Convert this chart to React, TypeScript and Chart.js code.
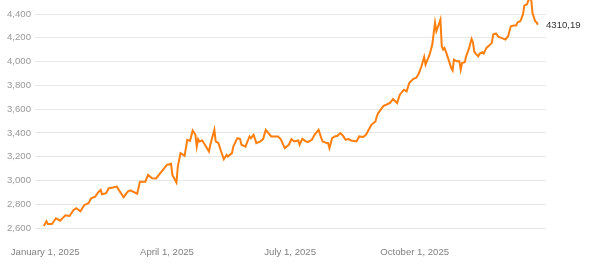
import React, { useEffect, useRef } from "react";
import { Chart, registerables } from "chart.js";

Chart.register(...registerables);

const dates: string[] = [
  "2024-12-31", "2025-01-02", "2025-01-03", "2025-01-06", "2025-01-09", "2025-01-12", "2025-01-16",
  "2025-01-19", "2025-01-22", "2025-01-24", "2025-01-27", "2025-01-30", "2025-02-02", "2025-02-04",
  "2025-02-07", "2025-02-09", "2025-02-11", "2025-02-12", "2025-02-15", "2025-02-17", "2025-02-20",
  "2025-02-23", "2025-02-25", "2025-02-28", "2025-03-03", "2025-03-05", "2025-03-10", "2025-03-12",
  "2025-03-16", "2025-03-18", "2025-03-21", "2025-03-24", "2025-03-29", "2025-04-01", "2025-04-04",
  "2025-04-05", "2025-04-08", "2025-04-09", "2025-04-11", "2025-04-13", "2025-04-14", "2025-04-16",
  "2025-04-18", "2025-04-20", "2025-04-22", "2025-04-23", "2025-04-24", "2025-04-25", "2025-04-27",
  "2025-04-29", "2025-05-02", "2025-05-03", "2025-05-06", "2025-05-07", "2025-05-09", "2025-05-11",
  "2025-05-13", "2025-05-15", "2025-05-16", "2025-05-19", "2025-05-20", "2025-05-23", "2025-05-25",
  "2025-05-26", "2025-05-29", "2025-05-30", "2025-06-01", "2025-06-02", "2025-06-04", "2025-06-06",
  "2025-06-09", "2025-06-11", "2025-06-13", "2025-06-15", "2025-06-17", "2025-06-22", "2025-06-24",
  "2025-06-27", "2025-06-30", "2025-07-02", "2025-07-04", "2025-07-07", "2025-07-08", "2025-07-10",
  "2025-07-12", "2025-07-14", "2025-07-17", "2025-07-19", "2025-07-22", "2025-07-24", "2025-07-25",
  "2025-07-28", "2025-07-29", "2025-07-30", "2025-08-01", "2025-08-03", "2025-08-05", "2025-08-07",
  "2025-08-09", "2025-08-11", "2025-08-13", "2025-08-15", "2025-08-19", "2025-08-21", "2025-08-24",
  "2025-08-26", "2025-08-28", "2025-08-30", "2025-09-02", "2025-09-03", "2025-09-04", "2025-09-08",
  "2025-09-10", "2025-09-13", "2025-09-15", "2025-09-18", "2025-09-20", "2025-09-23", "2025-09-25",
  "2025-09-27", "2025-09-30", "2025-10-02", "2025-10-04", "2025-10-06", "2025-10-08", "2025-10-09",
  "2025-10-12", "2025-10-14", "2025-10-16", "2025-10-17", "2025-10-20", "2025-10-21", "2025-10-22",
  "2025-10-23", "2025-10-24", "2025-10-26", "2025-10-28", "2025-10-29", "2025-10-30", "2025-11-01",
  "2025-11-03", "2025-11-04", "2025-11-05", "2025-11-07", "2025-11-08", "2025-11-10", "2025-11-12",
  "2025-11-13", "2025-11-14", "2025-11-15", "2025-11-17", "2025-11-18", "2025-11-20", "2025-11-21",
  "2025-11-23", "2025-11-25", "2025-11-27", "2025-11-28", "2025-11-30", "2025-12-02", "2025-12-04",
  "2025-12-07", "2025-12-09", "2025-12-11", "2025-12-13", "2025-12-15", "2025-12-16", "2025-12-18",
  "2025-12-20", "2025-12-21", "2025-12-23", "2025-12-24", "2025-12-26", "2025-12-27", "2025-12-29",
  "2025-12-30", "2025-12-31",
];

const prices: number[] = [
  2617, 2656, 2634, 2634, 2682, 2662, 2707,
  2701, 2752, 2766, 2741, 2794, 2808, 2850,
  2864, 2898, 2920, 2884, 2893, 2935, 2940,
  2948, 2910, 2859, 2906, 2916, 2888, 2990,
  2990, 3047, 3019, 3017, 3089, 3131, 3140,
  3047, 2982, 3117, 3230, 3215, 3207, 3342,
  3333, 3420, 3384, 3285, 3348, 3328, 3336,
  3300, 3243, 3300, 3426, 3329, 3314, 3243,
  3179, 3215, 3201, 3230, 3285, 3356, 3348,
  3300, 3285, 3314, 3370, 3356, 3384, 3314,
  3329, 3348, 3426, 3398, 3370, 3370, 3348,
  3272, 3300, 3348, 3328, 3336, 3300, 3350,
  3333, 3322, 3342, 3384, 3426, 3356, 3328,
  3314, 3314, 3272, 3356, 3370, 3376, 3398,
  3376, 3342, 3348, 3336, 3328, 3370, 3365,
  3384, 3426, 3468, 3496, 3538, 3567, 3628,
  3637, 3654, 3685, 3651, 3721, 3763, 3749,
  3820, 3854, 3862, 3898, 3960, 4039, 3974,
  4058, 4143, 4326, 4255, 4353, 4128, 4101,
  4115, 4086, 4016, 3946, 3926, 4016, 4002,
  4002, 3932, 3988, 3994, 4044, 4106, 4191,
  4162, 4086, 4067, 4044, 4067, 4078, 4067,
  4115, 4134, 4157, 4227, 4236, 4208, 4199,
  4185, 4213, 4297, 4303, 4303, 4331, 4339,
  4396, 4471, 4482, 4516, 4530, 4410, 4339,
  4331, 4310.19,
];

const tickDates: string[] = ["2025-01-01", "2025-04-01", "2025-07-01", "2025-10-01"];
const tickLabels: string[] = ["January 1, 2025", "April 1, 2025", "July 1, 2025", "October 1, 2025"];

const yMin = 2600;
const yMax = 4400;
const yStep = 200;

const START = Date.UTC(2025, 0, 1);
const dayOf = (s: string) => {
  const [y, m, d] = s.split("-").map(Number);
  return (Date.UTC(y, m - 1, d) - START) / 86400000;
};

const FONT = "Arial, 'Liberation Sans', sans-serif";

export default function App() {
  const ref = useRef<HTMLCanvasElement | null>(null);

  useEffect(() => {
    if (!ref.current) return;
    const points = dates.map((d, i) => ({ x: dayOf(d), y: prices[i] }));
    const tickDays = tickDates.map(dayOf);

    const lastLabel = {
      id: "lastLabel",
      afterDatasetsDraw(chart: any) {
        const meta = chart.getDatasetMeta(0);
        const pt = meta.data[meta.data.length - 1];
        if (!pt) return;
        const v = prices[prices.length - 1];
        const ctx = chart.ctx;
        ctx.save();
        ctx.font = `9.6px ${FONT}`;
        ctx.fillStyle = "#333333";
        ctx.textAlign = "left";
        ctx.textBaseline = "middle";
        ctx.fillText(v.toFixed(2).replace(".", ","), chart.chartArea.right, pt.y + 1);
        ctx.restore();
      },
    };

    const chart = new Chart(ref.current, {
      type: "line",
      data: {
        datasets: [
          {
            data: points,
            borderColor: "#ff7f0e",
            borderWidth: 2,
            pointRadius: 0,
            tension: 0,
            fill: false,
            clip: false as any,
          },
        ],
      },
      options: {
        animation: false,
        responsive: false,
        devicePixelRatio: 1,
        layout: { autoPadding: false, padding: { left: 0, right: 56, top: 14, bottom: 0 } } as any,
        plugins: { legend: { display: false }, tooltip: { enabled: false } },
        scales: {
          x: {
            type: "linear",
            min: -7.5,
            max: 370,
            grid: { display: false, drawTicks: false },
            border: { display: false },
            afterFit: (s: any) => {
              s.height = 38;
              s.paddingLeft = 0;
              s.paddingRight = 0;
            },
            afterBuildTicks: (s: any) => {
              s.ticks = tickDays.map((v) => ({ value: v }));
            },
            ticks: {
              autoSkip: false,
              maxRotation: 0,
              padding: 19,
              color: "#808080",
              font: { size: 9.6, family: FONT },
              callback: (v: any) => {
                const i = tickDays.indexOf(Number(v));
                return i >= 0 ? tickLabels[i] : "";
              },
            },
          },
          y: {
            min: yMin,
            max: yMax,
            grid: { color: "#e8e8e8", drawTicks: false, lineWidth: 1 },
            border: { display: false },
            afterFit: (s: any) => {
              s.width = 35;
              s.paddingTop = 0;
              s.paddingBottom = 0;
            },
            ticks: {
              stepSize: yStep,
              padding: 4,
              color: "#999999",
              font: { size: 9.6, family: FONT },
              callback: (v: any) => Number(v).toLocaleString("en-US"),
            },
          },
        },
      },
      plugins: [lastLabel],
    });
    return () => chart.destroy();
  }, []);

  return (
    <div style={{ position: "fixed", left: 0, top: 0, width: 602, height: 266, background: "#fff" }}>
      <canvas ref={ref} width={602} height={266} style={{ display: "block" }} />
    </div>
  );
}
